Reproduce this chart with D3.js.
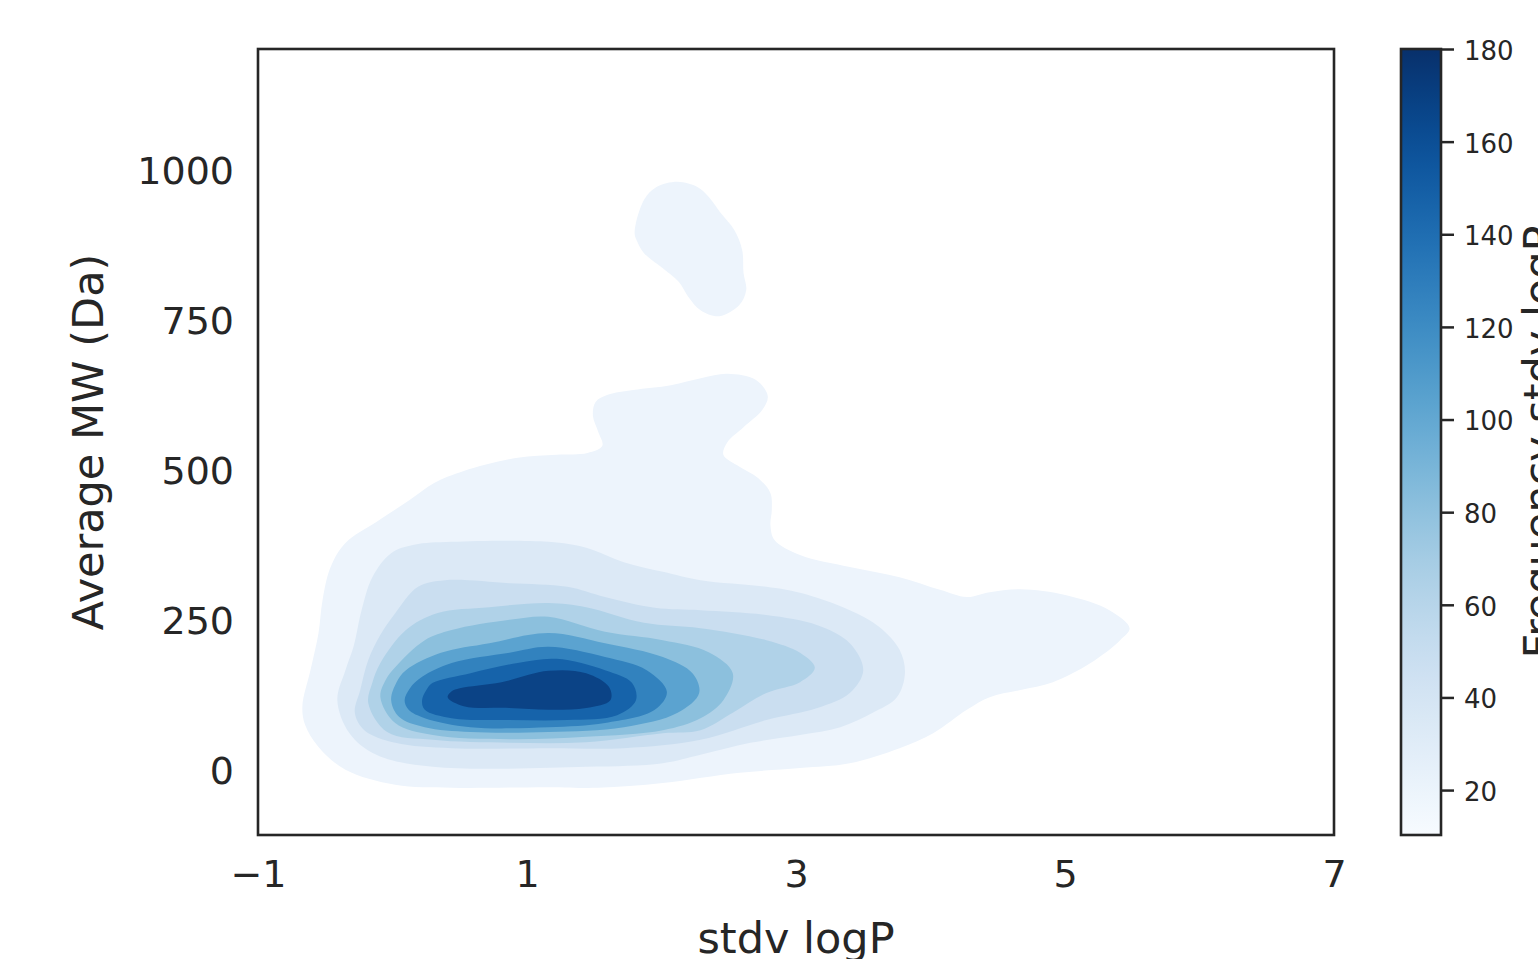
<!DOCTYPE html>
<html>
<head>
<meta charset="utf-8">
<script src="https://cdn.jsdelivr.net/npm/d3@7"></script>
<style>
  html, body { margin: 0; padding: 0; background: #ffffff; }
  svg { display: block; font-family: "DejaVu Sans", sans-serif; }
</style>
</head>
<body>
<svg id="chart" width="1538" height="959"></svg>
<script>
// ---------- data ----------
// x: stdv logP, y: Average MW (Da). Each array is one KDE iso-density contour.
const xTicks = [-1, 1, 3, 5, 7];
const yTicks = [0, 250, 500, 750, 1000];
const cbarTicks = [20, 40, 60, 80, 100, 120, 140, 160, 180];
const cbarRange = [10.3, 180];

const level1Main = [
  [-0.67,108],[-0.61,168],[-0.55,230],[-0.52,285],[-0.46,340],[-0.35,380],[-0.12,415],[0.13,452],
  [0.31,480],[0.53,500],[0.93,522],[1.22,527],[1.45,530],[1.56,542],[1.53,565],[1.49,592],
  [1.51,615],[1.60,627],[1.79,635],[2.07,643],[2.30,655],[2.49,662],[2.70,652],[2.79,625],
  [2.75,602],[2.61,573],[2.49,548],[2.46,527],[2.58,507],[2.72,488],[2.81,463],[2.82,435],
  [2.81,410],[2.84,385],[3.03,360],[3.40,340],[3.77,323],[4.07,302],[4.27,290],[4.44,298],
  [4.67,303],[5.01,293],[5.33,268],[5.48,238],[5.41,218],[5.19,180],[4.91,148],[4.67,135],
  [4.44,123],[4.27,102],[4.02,63],[3.77,38],[3.40,13],[3.03,5],[2.58,-3],[2.01,-20],
  [1.53,-28],[1.16,-27],[0.44,-28],[0.02,-23],[-0.35,2],[-0.55,40],[-0.65,77]
];
const level1Island = [
  [1.80,897],[1.87,952],[1.96,973],[2.12,982],[2.27,973],[2.35,957],[2.44,930],[2.54,902],
  [2.60,868],[2.61,830],[2.63,802],[2.58,777],[2.43,758],[2.29,768],[2.20,790],[2.13,815],
  [2.01,838],[1.87,863],[1.82,882]
];
const level2 = [
  [-0.41,118],[-0.35,168],[-0.29,207],[-0.23,268],[-0.15,323],[-0.01,363],[0.16,377],[0.44,382],
  [1.16,382],[1.44,372],[1.72,348],[2.01,332],[2.29,318],[2.78,307],[3.03,297],[3.40,268],
  [3.62,240],[3.77,202],[3.81,163],[3.75,123],[3.57,97],[3.33,73],[3.03,60],[2.66,47],
  [2.29,27],[2.01,13],[1.44,7],[0.30,7],[-0.12,27],[-0.32,63]
];
const level3 = [
  [-0.28,97],[-0.24,135],[-0.18,185],[-0.09,227],[0.02,263],[0.19,307],[0.39,318],[0.87,313],
  [1.30,307],[1.58,290],[1.95,272],[2.29,268],[2.78,260],[3.16,243],[3.40,213],[3.50,168],
  [3.40,130],[3.16,105],[2.78,85],[2.29,52],[1.72,38],[1.16,38],[0.44,38],[0.02,47],[-0.21,68]
];
const level4 = [
  [-0.18,113],[-0.15,147],[-0.09,180],[0.10,235],[0.33,263],[0.72,273],[1.16,280],[1.44,273],
  [1.87,247],[2.29,238],[2.78,218],[3.03,197],[3.14,172],[3.03,148],[2.78,130],[2.53,97],
  [2.29,68],[2.01,63],[1.44,48],[0.87,47],[0.30,52],[-0.04,65]
];
const level5 = [
  [-0.09,123],[-0.05,152],[0.02,173],[0.24,218],[0.44,235],[0.87,252],[1.16,257],[1.58,232],
  [2.01,218],[2.35,198],[2.53,163],[2.46,118],[2.29,88],[2.01,68],[1.44,57],[0.87,53],
  [0.30,60],[0.02,80]
];
const level6 = [
  [-0.01,118],[0.03,148],[0.10,168],[0.36,197],[0.72,213],[1.16,230],[1.58,213],[2.01,190],
  [2.23,163],[2.28,130],[2.12,97],[1.72,73],[1.16,65],[0.58,65],[0.24,73],[0.05,90]
];
const level7 = [
  [0.09,118],[0.13,138],[0.22,157],[0.44,180],[0.87,197],[1.16,207],[1.58,190],[1.89,168],
  [2.04,132],[1.95,102],[1.58,80],[1.16,73],[0.58,73],[0.24,88],[0.12,102]
];
const level8 = [
  [0.22,118],[0.26,138],[0.30,147],[0.58,163],[0.93,180],[1.22,187],[1.58,168],[1.78,147],
  [1.81,118],[1.67,93],[1.30,85],[0.87,85],[0.44,88],[0.24,102]
];
const level9 = [
  [0.41,123],[0.44,133],[0.50,138],[0.81,148],[1.16,167],[1.44,163],[1.61,140],[1.62,118],
  [1.44,105],[1.16,102],[0.87,105],[0.53,108]
];

// band -> list of polygons, lowest density first
const bands = [
  [level1Main, level1Island],
  [level2], [level3], [level4], [level5], [level6], [level7], [level8], [level9]
];
const bandColors = ["#edf4fc","#dce9f6","#cadef0","#b0d2e8","#8cc0dd","#5ba3d0","#3282be","#1663aa","#0b4386"];

// ---------- layout ----------
const svg = d3.select("#chart");
const plot = { left: 258, right: 1334, top: 49, bottom: 835 };
const cbar = { left: 1401, right: 1441, top: 49, bottom: 835 };
const ink = "#262626";

const x = d3.scaleLinear().domain([-1, 7]).range([plot.left, plot.right]);
const y = d3.scaleLinear().domain([-106.7, 1203.3]).range([plot.bottom, plot.top]);

const clipId = "plotclip";
svg.append("defs").append("clipPath").attr("id", clipId)
  .append("rect")
  .attr("x", plot.left).attr("y", plot.top)
  .attr("width", plot.right - plot.left).attr("height", plot.bottom - plot.top);

const line = d3.line()
  .x(d => x(d[0])).y(d => y(d[1]))
  .curve(d3.curveCatmullRomClosed.alpha(0.5));

const g = svg.append("g").attr("clip-path", `url(#${clipId})`);
bands.forEach((polys, i) => {
  polys.forEach(p => {
    g.append("path").attr("d", line(p)).attr("fill", bandColors[i]).attr("stroke", "none");
  });
});

// frame
svg.append("rect")
  .attr("x", plot.left).attr("y", plot.top)
  .attr("width", plot.right - plot.left).attr("height", plot.bottom - plot.top)
  .attr("fill", "none").attr("stroke", ink).attr("stroke-width", 2.6);

// axes (no tick marks, seaborn white style)
const fmt = d3.format("d");
const xAxis = d3.axisBottom(x).tickValues(xTicks).tickSize(0).tickPadding(25).tickFormat(fmt);
const yAxis = d3.axisLeft(y).tickValues(yTicks).tickSize(0).tickPadding(24).tickFormat(fmt);

const gx = svg.append("g").attr("transform", `translate(0,${plot.bottom})`).call(xAxis);
gx.select(".domain").remove();
gx.selectAll("text").attr("font-size", 38).attr("fill", ink).attr("font-family", "DejaVu Sans");

const gy = svg.append("g").attr("transform", `translate(${plot.left},0)`).call(yAxis);
gy.select(".domain").remove();
gy.selectAll("text").attr("font-size", 38).attr("fill", ink).attr("font-family", "DejaVu Sans");

// axis labels
svg.append("text")
  .attr("x", (plot.left + plot.right) / 2).attr("y", 953)
  .attr("text-anchor", "middle").attr("font-size", 43).attr("fill", ink)
  .text("stdv logP");
svg.append("text")
  .attr("transform", `translate(103,${(plot.top + plot.bottom) / 2}) rotate(-90)`)
  .attr("text-anchor", "middle").attr("font-size", 43).attr("fill", ink)
  .text("Average MW (Da)");

// colorbar
const c = d3.scaleLinear().domain(cbarRange).range([cbar.bottom, cbar.top]);
const grad = svg.select("defs").append("linearGradient")
  .attr("id", "cbgrad").attr("x1", 0).attr("y1", 1).attr("x2", 0).attr("y2", 0);
d3.range(0, 1.0001, 0.05).forEach(t => {
  grad.append("stop").attr("offset", t).attr("stop-color", d3.interpolateBlues(t));
});
svg.append("rect")
  .attr("x", cbar.left).attr("y", cbar.top)
  .attr("width", cbar.right - cbar.left).attr("height", cbar.bottom - cbar.top)
  .attr("fill", "url(#cbgrad)").attr("stroke", ink).attr("stroke-width", 2.6);

const cAxis = d3.axisRight(c).tickValues(cbarTicks).tickSize(13).tickPadding(10).tickFormat(fmt);
const gc = svg.append("g").attr("transform", `translate(${cbar.right},0)`).call(cAxis);
gc.select(".domain").remove();
gc.selectAll("line").attr("stroke", ink).attr("stroke-width", 2.5);
gc.selectAll("text").attr("font-size", 26).attr("fill", ink).attr("font-family", "DejaVu Sans")
  .attr("dy", "0.4em");

svg.append("text")
  .attr("transform", `translate(1554,${(cbar.top + cbar.bottom) / 2}) rotate(-90)`)
  .attr("text-anchor", "middle").attr("font-size", 43).attr("fill", ink)
  .text("Frequency stdv logP");
</script>
</body>
</html>
